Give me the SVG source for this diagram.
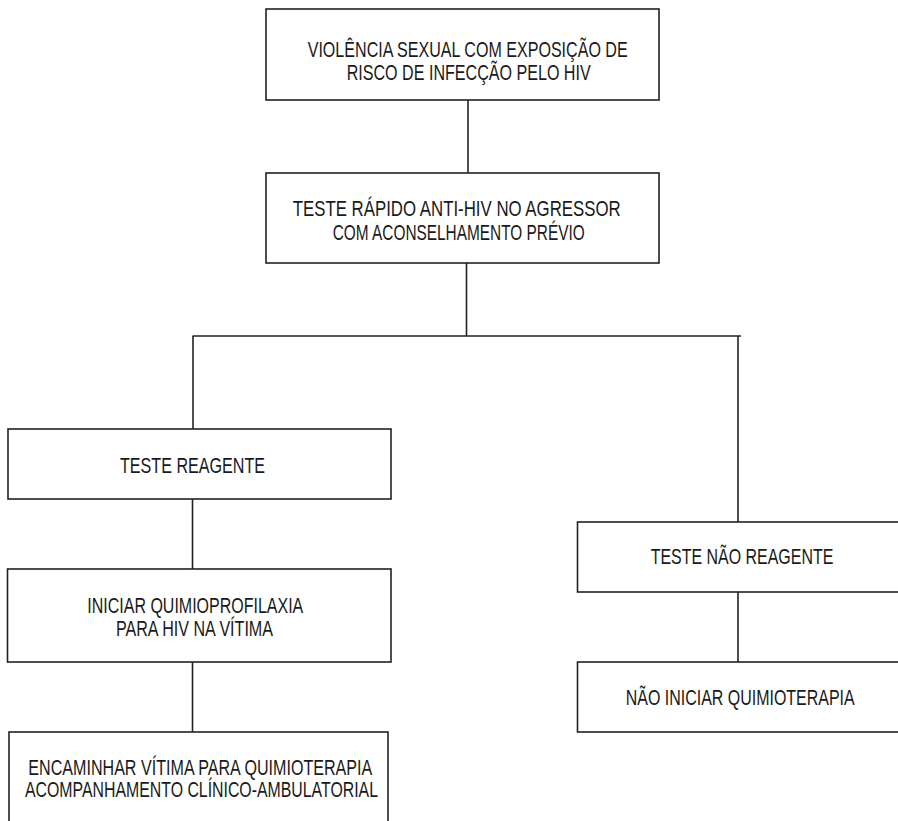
<svg xmlns="http://www.w3.org/2000/svg" width="898" height="821" viewBox="0 0 898 821">
<style>
.box{fill:#ffffff;stroke:#222222;stroke-width:1.6}
.ln{fill:none;stroke:#222222;stroke-width:1.6}
text{font-family:"Liberation Sans",Arial,sans-serif;font-size:22px;fill:#1a1a1a}
</style>
<rect x="0" y="0" width="898" height="821" fill="#ffffff"/>
<g id="connectors">
<line class="ln" x1="468" y1="100" x2="468" y2="173"/>
<line class="ln" x1="466.5" y1="263" x2="466.5" y2="336"/>
<line class="ln" x1="192.5" y1="336" x2="741" y2="336"/>
<line class="ln" x1="193" y1="336" x2="193" y2="429"/>
<line class="ln" x1="738" y1="336" x2="738" y2="522"/>
<line class="ln" x1="192.5" y1="499" x2="192.5" y2="569"/>
<line class="ln" x1="192.5" y1="662" x2="192.5" y2="732"/>
<line class="ln" x1="738" y1="592" x2="738" y2="662"/>
</g>
<g id="n1">
<rect class="box" x="266" y="9" width="393" height="91"/>
<text x="307.7" y="57" textLength="320" lengthAdjust="spacingAndGlyphs">VIOLÊNCIA SEXUAL COM EXPOSIÇÃO DE</text>
<text x="346.7" y="80" textLength="244" lengthAdjust="spacingAndGlyphs">RISCO DE INFECÇÃO PELO HIV</text>
</g>
<g id="n2">
<rect class="box" x="266" y="173" width="393" height="90"/>
<text x="292.7" y="216" textLength="328" lengthAdjust="spacingAndGlyphs">TESTE RÁPIDO ANTI-HIV NO AGRESSOR</text>
<text x="332.7" y="240" textLength="252" lengthAdjust="spacingAndGlyphs">COM ACONSELHAMENTO PRÉVIO</text>
</g>
<g id="n3">
<rect class="box" x="8" y="429" width="383" height="70"/>
<text x="120" y="473" textLength="145" lengthAdjust="spacingAndGlyphs">TESTE REAGENTE</text>
</g>
<g id="n4">
<rect class="box" x="7.5" y="569" width="383.5" height="93"/>
<text x="87.3" y="613" textLength="216" lengthAdjust="spacingAndGlyphs">INICIAR QUIMIOPROFILAXIA</text>
<text x="116" y="636" textLength="157" lengthAdjust="spacingAndGlyphs">PARA HIV NA VÍTIMA</text>
</g>
<g id="n5">
<rect class="box" x="9" y="732" width="379" height="100"/>
<text x="28.3" y="775" textLength="344" lengthAdjust="spacingAndGlyphs">ENCAMINHAR VÍTIMA PARA QUIMIOTERAPIA</text>
<text x="25" y="797" textLength="353" lengthAdjust="spacingAndGlyphs">ACOMPANHAMENTO CLÍNICO-AMBULATORIAL</text>
</g>
<g id="n6">
<rect class="box" x="577.5" y="522" width="330" height="70"/>
<text x="650.7" y="564" textLength="182.6" lengthAdjust="spacingAndGlyphs">TESTE NÃO REAGENTE</text>
</g>
<g id="n7">
<rect class="box" x="577.5" y="662" width="330" height="70"/>
<text x="625.7" y="705" textLength="229" lengthAdjust="spacingAndGlyphs">NÃO INICIAR QUIMIOTERAPIA</text>
</g>
</svg>
